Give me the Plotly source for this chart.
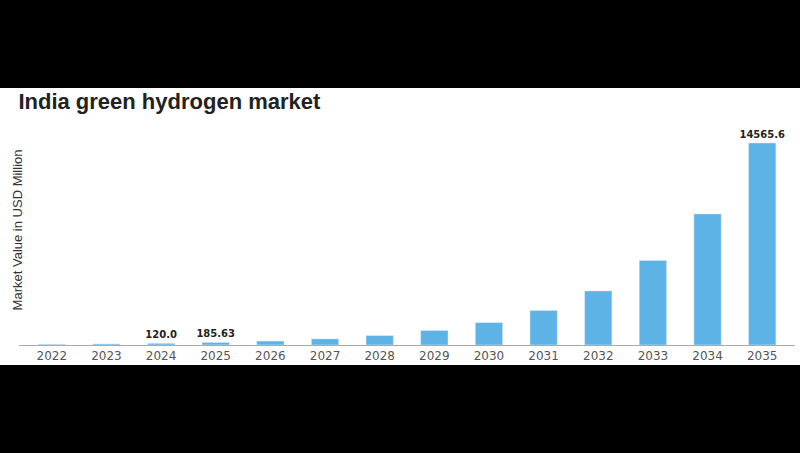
import plotly.graph_objects as go

years = ['2022', '2023', '2024', '2025', '2026', '2027', '2028',
         '2029', '2030', '2031', '2032', '2033', '2034', '2035']
market_value = [50, 78, 120.0, 185.63, 286, 441, 680,
                1048, 1615, 2490, 3900, 6100, 9450, 14565.6]
labels = ['', '', '120.0', '185.63', '', '', '', '', '', '', '', '', '', '14565.6']

fig = go.Figure(go.Bar(
    x=years, y=market_value,
    marker_color='#5DB2E6',
    text=['<b>%s</b>' % t if t else '' for t in labels],
    textposition='outside', constraintext='none',
    textfont=dict(family='DejaVu Sans', size=10, color='#222'),
    cliponaxis=False,
))

fig.update_layout(
    width=800, height=453,
    margin=dict(l=19, r=5, t=130, b=108),
    paper_bgcolor='black',
    plot_bgcolor='white',
    bargap=0.5,
    showlegend=False,
    font=dict(family='Liberation Sans'),
    title=dict(text='<b>India green hydrogen market</b>',
               x=0.023, xanchor='left', y=0.777, yanchor='middle',
               font=dict(family='Liberation Sans', size=22, color='#222')),
    xaxis=dict(range=[-0.6, 13.6], showline=True, linecolor='#aaa', linewidth=1,
               ticks='', tickfont=dict(family='DejaVu Sans', size=12, color='#555'),
               showgrid=False),
    yaxis=dict(range=[0, 15500], visible=False, showgrid=False),
    shapes=[dict(type='rect', xref='paper', yref='paper',
                 x0=-0.03, x1=1.01, y0=-0.093, y1=1.195,
                 fillcolor='white', line_width=0, layer='below')],
    annotations=[dict(text='Market Value in USD Million', textangle=-90,
                      xref='paper', yref='paper', x=-0.013, y=0.535,
                      showarrow=False,
                      font=dict(family='Liberation Sans', size=13, color='#333'))],
)

fig.write_html('out.html', config={'displayModeBar': False},
               post_script="document.body.style.margin='0';")
